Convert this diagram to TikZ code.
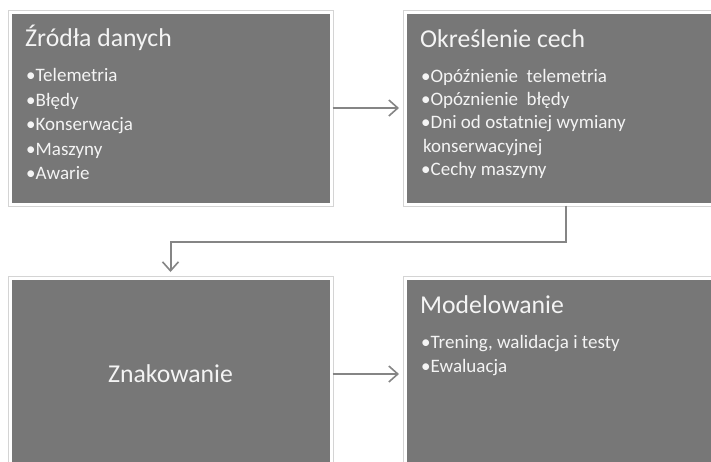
\documentclass[tikz,border=0pt]{standalone}
\usepackage{fontspec}
\setmainfont{Carlito}
\usetikzlibrary{arrows.meta}
\definecolor{boxgray}{HTML}{777777}
\definecolor{edgegray}{HTML}{D4D4D4}
\definecolor{arrgray}{HTML}{858585}
\definecolor{txt}{HTML}{F4F4F4}
\tikzset{
  box/.style={rectangle, inner sep=0pt, fill=boxgray, draw=white, line width=3pt,
    preaction={draw=edgegray, line width=5pt}},
  ttl/.style={anchor=base west, inner sep=0pt, text=txt, font=\fontsize{25.7}{30}\selectfont},
  itm/.style={anchor=base west, inner sep=0pt, text=txt, font=\fontsize{19}{23}\selectfont},
  conn/.style={draw=arrgray, line width=2pt, -{Straight Barb[length=9pt,width=16pt,line width=1.6pt]}, shorten >=4.5pt}
}
\begin{document}
\begin{tikzpicture}[x=1pt,y=1pt]
\useasboundingbox (0,0) rectangle (711,-461);
\fill[white] (0,0) rectangle (711,-461);
\clip (0,0) rectangle (711,-461);
\node[box, minimum width=321pt, minimum height=192pt] (b1) at (170.5,-108) {};
\node[box, minimum width=322pt, minimum height=192pt] (b2) at (566,-108) {};
\node[box, minimum width=321pt, minimum height=192pt] (b3) at (170.5,-374) {};
\node[box, minimum width=322pt, minimum height=192pt] (b4) at (566,-374) {};
% box 1 text
\node[ttl] (t1) at (25,-46.7) {Źródła danych};
\node[itm] (i11) at (26,-81.7) {•Telemetria};
\node[itm] (i12) at (26,-106) {•Błędy};
\node[itm] (i13) at (26,-130.5) {•Konserwacja};
\node[itm] (i14) at (26,-155) {•Maszyny};
\node[itm] (i15) at (26,-179) {•Awarie};
% box 2 text
\node[ttl] (t2) at (420,-47) {Określenie cech};
\node[itm] (i21) at (421,-82) {•Opóźnienie\ \ telemetria};
\node[itm] (i22) at (421,-105) {•Opóznienie\ \ błędy};
\node[itm] (i23) at (421,-128) {•Dni od ostatniej wymiany};
\node[itm] (i24) at (423,-152) {konserwacyjnej};
\node[itm] (i25) at (421,-175) {•Cechy maszyny};
% box 3 text
\node[ttl, anchor=base] (t3) at (170.5,-382) {Znakowanie};
% box 4 text
\node[ttl] (t4) at (420,-313) {Modelowanie};
\node[itm] (i41) at (421,-348) {•Trening, walidacja i testy};
\node[itm] (i42) at (421,-372) {•Ewaluacja};
% connectors
\draw[conn] (b1.east) -- (b2.west);
\draw[conn] (b2.south) -- ++(0,-36.5) -| (b3.north);
\draw[conn] (b3.east) -- (b4.west);
\end{tikzpicture}
\end{document}
